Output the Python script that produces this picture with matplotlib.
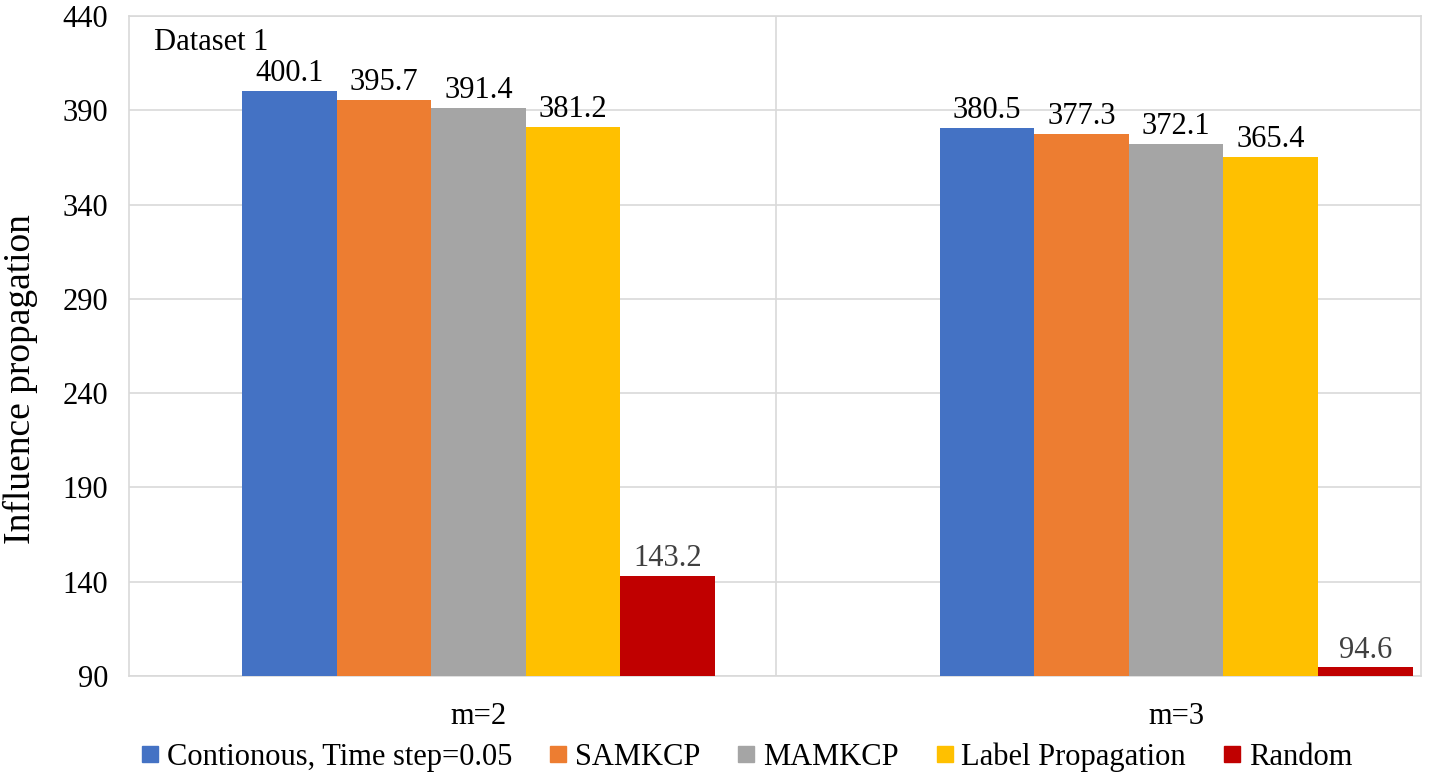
import matplotlib
matplotlib.use('Agg')
import matplotlib.pyplot as plt
from matplotlib.lines import Line2D
import numpy as np

plt.rcParams['font.family'] = ['Liberation Serif', 'DejaVu Serif']

# data
categories = ['m=2', 'm=3']
series_names = ['Contionous, Time step=0.05', 'SAMKCP', 'MAMKCP', 'Label Propagation', 'Random']
continuous = [400.1, 380.5]
samkcp = [395.7, 377.3]
mamkcp = [391.4, 372.1]
label_prop = [381.2, 365.4]
random_vals = [143.2, 94.6]
yticks = [90, 140, 190, 240, 290, 340, 390, 440]

all_series = [continuous, samkcp, mamkcp, label_prop, random_vals]
colors = ['#4472C4', '#ED7D31', '#A5A5A5', '#FFC000', '#C00000']
label_colors = ['black', 'black', 'black', 'black', '#404040']

fig = plt.figure(figsize=(14.29, 7.78), dpi=100)
ax = fig.add_axes([0.0903, 0.1311, 0.9041, 0.8483])

x = np.arange(len(categories))
width = 0.1356
base = 90
fs = 22

for i, (vals, col, lcol) in enumerate(zip(all_series, colors, label_colors)):
    pos = x + (i - 2) * width
    heights = [v - base for v in vals]
    ax.bar(pos, heights, width, bottom=base, color=col, zorder=3)
    for p, v in zip(pos, vals):
        ax.annotate(f'{v:.1f}', (p, v), xytext=(0, 2), textcoords='offset points',
                    ha='center', va='bottom', fontsize=fs, color=lcol)

ax.set_xlim(-0.501, 1.351)
ax.set_ylim(90, 440)
ax.set_yticks(yticks)
ax.set_xticks(x)
ax.set_xticklabels(categories)
ax.tick_params(axis='both', length=0, labelsize=fs)
ax.tick_params(axis='x', pad=19)
ax.tick_params(axis='y', pad=15)

ax.grid(axis='y', color='#d9d9d9', linewidth=1.2, zorder=0)
ax.axvline(0.4265, color='#d9d9d9', linewidth=1.2, zorder=0)
for s in ax.spines.values():
    s.set_color('#d9d9d9')
    s.set_linewidth(1.2)

ax.set_ylabel('Influence propagation', fontsize=27)
ax.yaxis.set_label_coords(-0.0704, 0.45)
ax.text(0.019, 0.96, 'Dataset 1', transform=ax.transAxes, fontsize=fs, va='center', ha='left')

handles = [Line2D([], [], marker='s', linestyle='none', markersize=11, color=c) for c in colors]
fig.legend(handles, series_names, loc='center', bbox_to_anchor=(0.523, 0.027), ncol=5,
           frameon=False, fontsize=fs, handlelength=0.5, handletextpad=0.3,
           columnspacing=1.25, borderaxespad=0)

fig.savefig('out.png', dpi=100, facecolor='white')
